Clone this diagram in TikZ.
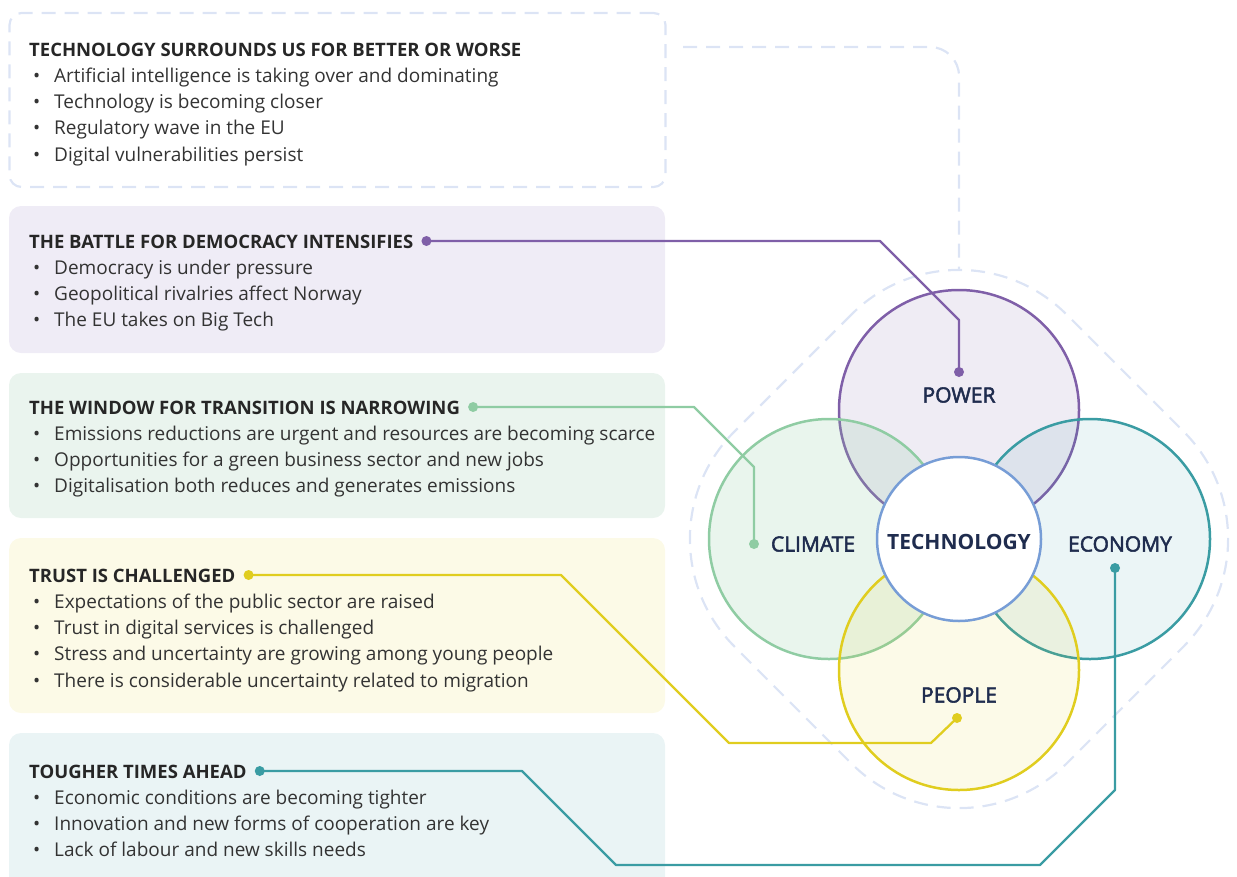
\documentclass[tikz,border=0pt]{standalone}
\usepackage{fontspec}
\setmainfont{Open Sans}
\newfontfamily\lblfam[FakeBold=2.5]{Open Sans}
\usetikzlibrary{calc}
\definecolor{cpur}{HTML}{7F5FA8}
\definecolor{cgrn}{HTML}{8FCCA3}
\definecolor{cyel}{HTML}{E0CD1F}
\definecolor{ctea}{HTML}{3A9CA3}
\definecolor{cblu}{HTML}{779DD6}
\definecolor{cdash}{HTML}{DCE4F5}
\definecolor{bpur}{HTML}{EFECF6}
\definecolor{bgrn}{HTML}{EAF4EE}
\definecolor{byel}{HTML}{FCFAE7}
\definecolor{btea}{HTML}{EAF4F5}
\definecolor{navy}{HTML}{1F2C4E}
\definecolor{ttlc}{HTML}{262626}
\definecolor{txtc}{HTML}{333333}
\newcommand\ttlfont{\fontsize{18.5}{23}\selectfont\bfseries}
\newcommand\itmfont{\fontsize{19}{23}\selectfont}
\begin{document}
\begin{tikzpicture}[x=1pt,y=-1pt,
  box/.style={rounded corners=12pt, minimum width=656pt, inner sep=0pt, draw=none},
  dashline/.style={draw=cdash, line width=2.2pt, dash pattern=on 14pt off 9pt},
  ttl/.style={anchor=base west, inner sep=0pt, font=\ttlfont, text=ttlc},
  itm/.style={anchor=base west, inner sep=0pt, font=\itmfont, text=txtc},
  bul/.style={anchor=base west, inner sep=0pt, font=\itmfont, text=txtc},
  ring/.style={circle, minimum size=240pt, inner sep=0pt, line width=2.5pt},
  lbl/.style={inner sep=0pt, font=\lblfam\fontsize{21}{25}\selectfont, text=navy},
  conn/.style={line width=2.3pt, line join=round},
  dot/.style={circle, fill=#1, minimum size=10pt, inner sep=0pt}
]
\path[use as bounding box] (0,0) rectangle (1237,876);

% boxes
\node[box, dashline, minimum height=174pt] (box1) at (337.5,100) {};
\node[box, fill=bpur, minimum height=147pt] (box2) at (337,279.5) {};
\node[box, fill=bgrn, minimum height=145pt] (box3) at (337,445.5) {};
\node[box, fill=byel, minimum height=175pt] (box4) at (337,625.5) {};
\node[box, fill=btea, minimum height=175pt] (box5) at (337,820.5) {};

% texts
\node[ttl] (t1) at (29,56) {TECHNOLOGY SURROUNDS US FOR BETTER OR WORSE};
\foreach \s [count=\k] in {Artificial intelligence is taking over and dominating, Technology is becoming closer, Regulatory wave in the EU, Digital vulnerabilities persist}{
  \node[bul] (ba-\k) at (33,{56+26.3*\k}) {•};
  \node[itm] (ia-\k) at (54,{56+26.3*\k}) {\s};}

\node[ttl] (t2) at (29,248) {THE BATTLE FOR DEMOCRACY INTENSIFIES};
\foreach \s [count=\k] in {Democracy is under pressure, Geopolitical rivalries affect Norway, The EU takes on Big Tech}{
  \node[bul] (bb-\k) at (33,{248+26.3*\k}) {•};
  \node[itm] (ib-\k) at (54,{248+26.3*\k}) {\s};}

\node[ttl] (t3) at (29,414) {THE WINDOW FOR TRANSITION IS NARROWING};
\foreach \s [count=\k] in {Emissions reductions are urgent and resources are becoming scarce, Opportunities for a green business sector and new jobs, Digitalisation both reduces and generates emissions}{
  \node[bul] (bc-\k) at (33,{414+26.3*\k}) {•};
  \node[itm] (ic-\k) at (54,{414+26.3*\k}) {\s};}

\node[ttl] (t4) at (29,582) {TRUST IS CHALLENGED};
\foreach \s [count=\k] in {Expectations of the public sector are raised, Trust in digital services is challenged, Stress and uncertainty are growing among young people, There is considerable uncertainty related to migration}{
  \node[bul] (bd-\k) at (33,{582+26.3*\k}) {•};
  \node[itm] (id-\k) at (54,{582+26.3*\k}) {\s};}

\node[ttl] (t5) at (29,778) {TOUGHER TIMES AHEAD};
\foreach \s [count=\k] in {Economic conditions are becoming tighter, Innovation and new forms of cooperation are key, Lack of labour and new skills needs}{
  \node[bul] (be-\k) at (33,{778+26.3*\k}) {•};
  \node[itm] (ie-\k) at (54,{778+26.3*\k}) {\s};}

% outer dashed rounded diamond and link
\node[rectangle, dashline, rounded corners=152pt, minimum size=469.6pt, inner sep=0pt, rotate=45] (outer) at (959,539) {};
\coordinate (otop) at (959,270);
\draw[dashline, rounded corners=29pt] (683,47) -- (959,47) -- (otop);

% circles
\node[ring, draw=cpur, fill=cpur, fill opacity=0.12] (power) at (959,410) {};
\node[ring, draw=cgrn, fill=cgrn, fill opacity=0.2] (climate) at (829,539) {};
\node[ring, draw=ctea, fill=ctea, fill opacity=0.1] (economy) at (1090,539) {};
\node[ring, draw=cyel, fill=cyel, fill opacity=0.1] (people) at (959,670) {};
\node[circle, draw=cblu, fill=white, line width=2.5pt, minimum size=164pt, inner sep=0pt] (tech) at (959,539) {};

\node[lbl] (lpow) at (959,395) {POWER};
\node[lbl] (lcli) at (813,544) {CLIMATE};
\node[lbl] (leco) at (1120,544) {ECONOMY};
\node[lbl] (lpeo) at (959,695) {PEOPLE};
\node[inner sep=0pt, font=\fontsize{21}{25}\selectfont\bfseries, text=navy] (ltec) at (959,542) {TECHNOLOGY};

% connector dots
\node[dot=cpur] (s2) at ($(t2.base east)+(13,-7)$) {};
\node[dot=cgrn] (s3) at ($(t3.base east)+(13,-7)$) {};
\node[dot=cyel] (s4) at ($(t4.base east)+(13,-7)$) {};
\node[dot=ctea] (s5) at ($(t5.base east)+(13,-7)$) {};
\node[dot=cpur] (p2) at (959,372) {};
\node[dot=cgrn] (p3) at (754,544) {};
\node[dot=cyel] (p4) at (957,718) {};
\node[dot=ctea] (p5) at (1115,568) {};

% connectors
\draw[conn, cpur] (s2.center) -- (880,241) -- (959,320) -- (p2.center);
\draw[conn, cgrn] (s3.center) -- (694,407) -- (754,467) -- (p3.center);
\draw[conn, cyel] (s4.center) -- (561,575) -- (729,743) -- (931,743) -- (p4.center);
\draw[conn, ctea] (s5.center) -- (522,771) -- (616,865) -- (1040,865) -- (1115,790) -- (p5.center);
\end{tikzpicture}
\end{document}
